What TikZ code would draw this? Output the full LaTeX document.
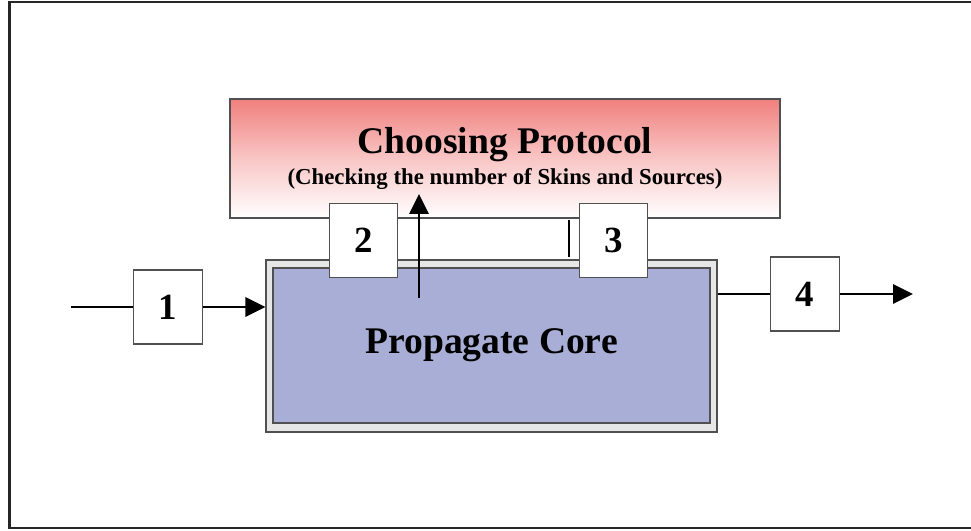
\documentclass[tikz,border=0pt]{standalone}
\usepackage{fontspec}
\setmainfont{Liberation Serif}
\usetikzlibrary{arrows.meta, positioning}
\definecolor{coreblue}{RGB}{168,174,214}
\definecolor{corerim}{RGB}{230,230,230}
\definecolor{protored}{RGB}{240,128,126}
\definecolor{edgegray}{RGB}{80,80,80}
\tikzset{
>={Triangle[length=4mm,width=3.8mm]}, % big filled heads like the original
flow/.style={line width=1.7pt, black}, % the signal lines
numbox/.style={draw=edgegray, line width=0.7pt, fill=white, minimum width=1.37cm, minimum height=1.48cm, font=\fontsize{21}{24}\selectfont\bfseries}, % numbered blocks
}
\begin{document}
\begin{tikzpicture}[x=0.02cm, y=-0.02cm]
        \useasboundingbox (0,0) rectangle (971,531);
        % frame, its right side runs off the page
        \draw[line width=1.7pt, black!85] (980,2) -- (9.5,2) -- (9.5,528) -- (980,528);

        % protocol block
        \node[draw=edgegray, line width=0.7pt, top color=protored, bottom color=white, middle color=protored!45,
              minimum width=11cm, minimum height=2.38cm, align=center] (proto) at (505,158.5)
              {{\fontsize{21.4}{24}\selectfont\bfseries Choosing Protocol}\\[3pt]
               {\fontsize{13}{15}\selectfont\bfseries (Checking the number of Skins and Sources)}};

        % core block
        \node[draw=edgegray, line width=0.7pt, fill=corerim, minimum width=9.02cm, minimum height=3.44cm] (rim) at (491.5,346) {};
        \node[draw=edgegray, line width=0.7pt, fill=coreblue, minimum width=8.74cm, minimum height=3.1cm,
              font=\fontsize{21.4}{24}\selectfont\bfseries] (core) at (491.5,345.5) {Propagate Core};

        \node[numbox] (b1) at (168,307) {1};
        \node[numbox] (b2) at (363.5,240.5) {2};
        \node[numbox] (b3) at (613.5,240.5) {3};
        \node[numbox] (b4) at (805,294) {4};

        \coordinate (in) at (71,307);
        \coordinate (out) at (913,294);
        \coordinate (upfoot) at (419,298);
        \coordinate (uptip) at (419,194);
        \coordinate (tickA) at (569,220);
        \coordinate (tickB) at (569,257);

        \draw[flow] (in) -- (b1);
        \draw[flow, ->] (b1) -- (b1 -| rim.west);
        \draw[flow] (b4 -| rim.east) -- (b4);
        \draw[flow, ->] (b4) -- (out);
        \draw[flow, ->] (upfoot) -- (uptip);
        \draw[flow] (tickA) -- (tickB);
\end{tikzpicture}
\end{document}
